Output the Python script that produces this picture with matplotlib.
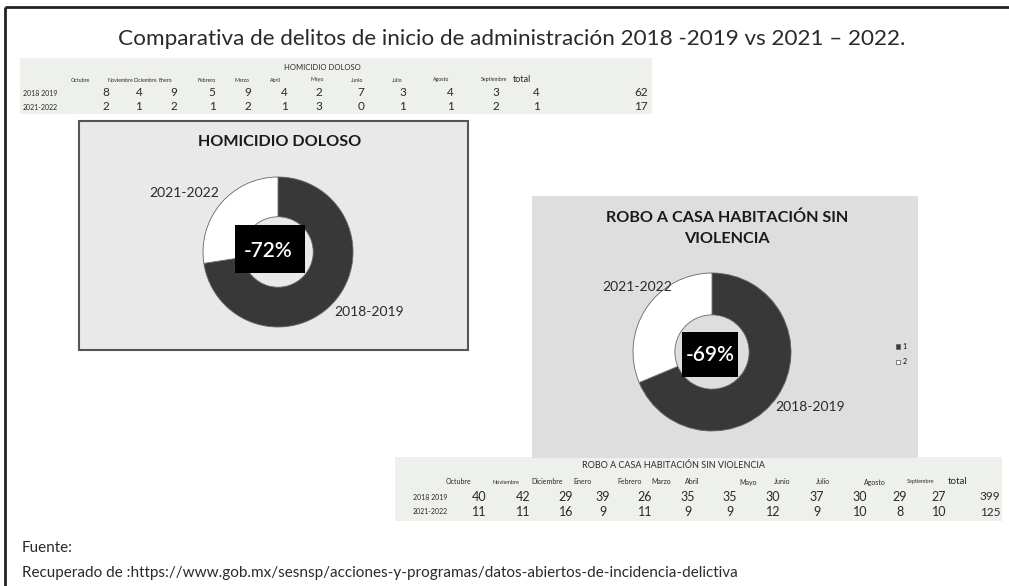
import matplotlib
matplotlib.use("Agg")
import matplotlib.pyplot as plt
from matplotlib.patches import Rectangle

plt.rcParams['font.family'] = ['Lato', 'DejaVu Sans']

# ---------------- data ----------------
months = ["Octubre", "Noviembre", "Diciembre", "Enero", "Febrero", "Marzo",
          "Abril", "Mayo", "Junio", "Julio", "Agosto", "Septiembre"]
row_labels_hom = ["2018 2019", "2021-2022"]
row_labels_rob = ["2018 2019", "2021-2022"]
hom_2018 = [8, 4, 9, 5, 9, 4, 2, 7, 3, 4, 3, 4]
hom_2021 = [2, 1, 2, 1, 2, 1, 3, 0, 1, 1, 2, 1]
rob_2018 = [40, 42, 29, 39, 26, 35, 35, 30, 37, 30, 29, 27]
rob_2021 = [11, 11, 16, 9, 11, 9, 9, 12, 9, 10, 8, 10]
hom_donut = [45, 17]        # decrease, 2021-2022
rob_donut = [274, 125]
donut_labels = ["2018-2019", "2021-2022"]
hom_pct = "-72%"
rob_pct = "-69%"
legend_labels = ["1", "2"]

title = "Comparativa de delitos de inicio de administración 2018 -2019 vs 2021 \u2013 2022."
fuente = "Fuente:"
url = "Recuperado de :https://www.gob.mx/sesnsp/acciones-y-programas/datos-abiertos-de-incidencia-delictiva"

# ---------------- layout (pixels) ----------------
W, H = 1009, 586
fig = plt.figure(figsize=(W / 100, H / 100), dpi=100)
fig.patch.set_facecolor("white")
ax = fig.add_axes([0, 0, 1, 1])
ax.set_xlim(0, W)
ax.set_ylim(H, 0)
ax.axis("off")

DARK = "#383838"
TXT = "#2a2a2a"

# page border
ax.plot([5, 5], [586, 7], color="#222222", lw=2, solid_capstyle="butt")
ax.plot([5, 1009], [7, 7], color="#222222", lw=2, solid_capstyle="butt")

ax.text(512, 39, title, ha="center", va="center", fontsize=16.2, color=TXT)

# ---- table 1 ----
ax.add_patch(Rectangle((20, 58), 632, 56, facecolor="#eef0ec", edgecolor="none"))
ax.text(322, 67, "HOMICIDIO DOLOSO", ha="center", va="center", fontsize=5.5, color=TXT)
hx1 = [80, 120, 145, 165, 207, 242, 275, 317, 357, 397, 441, 494]
vx1 = [106, 139, 174, 212, 248, 284, 319, 361, 403, 450, 496, 536]
for x, m in zip(hx1, months):
    ax.text(x, 80, m, ha="center", va="center", fontsize=3.8, color=TXT)
ax.text(522, 79, "total", ha="center", va="center", fontsize=6.5, color=TXT)
for y, lab, vals in [(93, row_labels_hom[0], hom_2018), (107, row_labels_hom[1], hom_2021)]:
    ax.text(23, y, lab, ha="left", va="center", fontsize=5, color=TXT)
    for x, v in zip(vx1, vals):
        ax.text(x, y, str(v), ha="center", va="center", fontsize=8.5, color=TXT)
    ax.text(641, y, str(sum(vals)), ha="center", va="center", fontsize=8.5, color=TXT)

# ---- table 2 ----
ax.add_patch(Rectangle((395, 457), 607, 64, facecolor="#eef0ec", edgecolor="none"))
ax.text(674, 466, "ROBO A CASA HABITACIÓN SIN VIOLENCIA", ha="center", va="center",
        fontsize=6.5, color=TXT)
hx2 = [458, 506, 547, 583, 630, 661, 692, 748, 782, 823, 875, 921]
vx2 = [479, 523, 566, 603, 645, 688, 730, 773, 817, 860, 900, 939]
for x, m in zip(hx2, months):
    ax.text(x, 482, m, ha="center", va="center",
            fontsize=4 if m == "Noviembre" or m == "Septiembre" else 5, color=TXT)
ax.text(958, 481, "total", ha="center", va="center", fontsize=7, color=TXT)
for y, lab, vals in [(497, row_labels_rob[0], rob_2018), (512, row_labels_rob[1], rob_2021)]:
    ax.text(413, y, lab, ha="left", va="center", fontsize=5, color=TXT)
    for x, v in zip(vx2, vals):
        ax.text(x, y, str(v), ha="center", va="center", fontsize=9, color=TXT)
    ax.text(990, y, str(sum(vals)), ha="center", va="center", fontsize=8.5, color=TXT)

# ---- chart boxes ----
ax.add_patch(Rectangle((79, 121), 389, 229, facecolor="#e9e9e9", edgecolor="#555555", lw=1.5))
ax.text(280, 142, "HOMICIDIO DOLOSO", ha="center", va="center", fontsize=11.6,
        fontweight="bold", color="#1a1a1a")
ax.add_patch(Rectangle((532, 196), 386, 262, facecolor="#dedede", edgecolor="none"))
ax.text(727, 228, "ROBO A CASA HABITACIÓN SIN\nVIOLENCIA", ha="center", va="center",
        fontsize=11.6, fontweight="bold", color="#1a1a1a", linespacing=1.6)


def donut(cx, cy, r, vals, pct, box, txt_xy, lab_pos, fs):
    pax = fig.add_axes([(cx - r) / W, 1 - (cy + r) / H, 2 * r / W, 2 * r / H])
    wedges, _ = pax.pie(vals, colors=[DARK, "white"], startangle=90, counterclock=False,
                        radius=1, wedgeprops=dict(width=0.53, edgecolor="#666666", lw=0.6))
    pax.set_xlim(-1, 1)
    pax.set_ylim(-1, 1)
    pax.set_aspect("equal")
    pax.axis("off")
    for (lx, ly, ha), lab in zip(lab_pos, donut_labels):
        pax.text(lx, ly, lab, ha=ha, va="center", fontsize=10, color="#2a2a2a",
                 clip_on=False)
    x0, y0, x1, y1 = box
    pax.add_patch(Rectangle((x0, y0), x1 - x0, y1 - y0, facecolor="black",
                            edgecolor="none", zorder=5, clip_on=False))
    pax.text(txt_xy[0], txt_xy[1], pct, ha="center", va="center", fontsize=fs,
             color="white", fontweight="semibold", zorder=6)
    return pax, wedges


donut(278, 252, 75, hom_donut, hom_pct, (-0.573, -0.28, 0.36, 0.36), (-0.133, 0.013),
      [(0.75, -0.8, "left"), (-0.78, 0.79, "right")], 15)
pax2, w2 = donut(712, 352, 79, rob_donut, rob_pct, (-0.38, -0.316, 0.33, 0.253),
                 (-0.025, -0.038), [(0.8, -0.7, "left"), (-0.5, 0.82, "right")], 15)
fig.legend(w2, legend_labels, loc="center left", bbox_to_anchor=(890 / W, 1 - 354 / H),
           frameon=False, fontsize=5, handlelength=0.6, handleheight=0.6,
           handletextpad=0.3, labelspacing=1.2)

ax.text(22, 548, fuente, ha="left", va="center", fontsize=11, color=TXT)
ax.text(22, 573, url, ha="left", va="center", fontsize=11, color=TXT)

fig.savefig("out.png", dpi=100, facecolor="white")
